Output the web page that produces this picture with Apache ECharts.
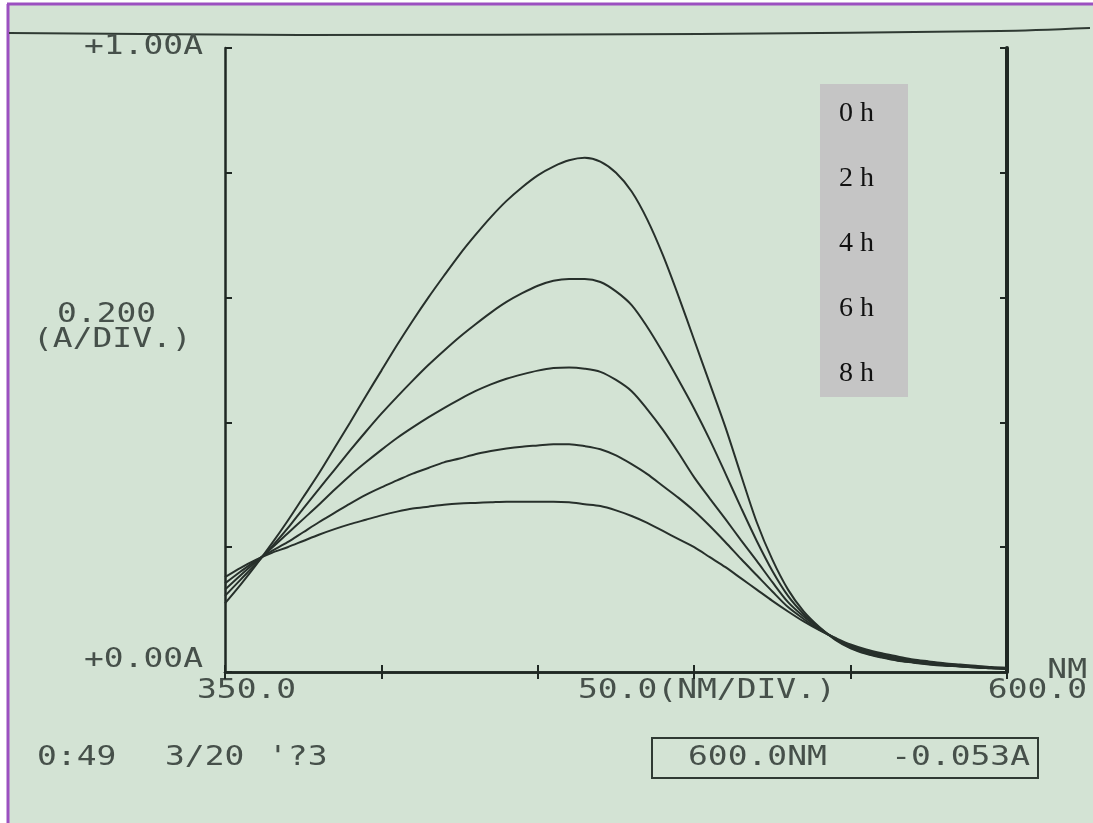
<!DOCTYPE html>
<html>
<head>
<meta charset="utf-8">
<script src="https://cdn.jsdelivr.net/npm/echarts@6/dist/echarts.min.js"></script>
<style>
  html, body { margin: 0; padding: 0; background: #fff; }
  #chart { width: 1093px; height: 823px; }
</style>
</head>
<body>
<div id="chart"></div>
<script>
    // 波长 (nm)
    var wavelengths = [350, 355, 360, 365, 370, 375, 380, 385, 390, 395, 400, 405, 410, 415, 420, 425, 430,
        435, 440, 445, 450, 455, 460, 465, 470, 475, 480, 485, 490, 495, 500, 505, 510, 515, 520, 525,
        530, 535, 540, 545, 550, 555, 560, 565, 570, 575, 580, 585, 590, 595, 600];
    // 吸光度 (A)
    var abs0h = [0.110, 0.140, 0.172, 0.206, 0.242, 0.280, 0.318, 0.359, 0.400, 0.442, 0.483, 0.524, 0.563,
        0.600, 0.635, 0.669, 0.700, 0.729, 0.755, 0.777, 0.796, 0.810, 0.820, 0.824, 0.818, 0.800, 0.770,
        0.725, 0.668, 0.602, 0.532, 0.462, 0.392, 0.315, 0.240, 0.180, 0.132, 0.097, 0.072, 0.052, 0.038,
        0.029, 0.023, 0.018, 0.015, 0.012, 0.010, 0.009, 0.007, 0.006, 0.005];
    var abs2h = [0.122, 0.148, 0.174, 0.201, 0.230, 0.262, 0.293, 0.324, 0.355, 0.385, 0.414, 0.441, 0.467,
        0.492, 0.515, 0.537, 0.557, 0.576, 0.593, 0.607, 0.619, 0.627, 0.630, 0.630, 0.625, 0.610, 0.588,
        0.553, 0.512, 0.468, 0.422, 0.372, 0.318, 0.263, 0.210, 0.162, 0.122, 0.093, 0.071, 0.053, 0.039,
        0.030, 0.024, 0.019, 0.016, 0.013, 0.011, 0.009, 0.008, 0.006, 0.005];
    var abs4h = [0.132, 0.155, 0.177, 0.199, 0.222, 0.245, 0.268, 0.292, 0.315, 0.336, 0.356, 0.375, 0.392,
        0.408, 0.423, 0.437, 0.450, 0.461, 0.470, 0.477, 0.483, 0.487, 0.488, 0.486, 0.481, 0.468, 0.450,
        0.421, 0.388, 0.351, 0.312, 0.278, 0.245, 0.211, 0.178, 0.144, 0.112, 0.089, 0.070, 0.054, 0.041,
        0.032, 0.026, 0.021, 0.018, 0.014, 0.012, 0.010, 0.008, 0.007, 0.006];
    var abs6h = [0.142, 0.161, 0.179, 0.194, 0.208, 0.224, 0.240, 0.255, 0.270, 0.284, 0.296, 0.307, 0.318,
        0.327, 0.336, 0.342, 0.349, 0.354, 0.358, 0.361, 0.363, 0.365, 0.365, 0.362, 0.357, 0.347, 0.333,
        0.317, 0.298, 0.279, 0.258, 0.234, 0.208, 0.181, 0.155, 0.129, 0.104, 0.085, 0.068, 0.054, 0.042,
        0.034, 0.028, 0.023, 0.019, 0.016, 0.013, 0.011, 0.009, 0.007, 0.006];
    var abs8h = [0.152, 0.167, 0.180, 0.191, 0.200, 0.210, 0.220, 0.229, 0.237, 0.244, 0.251, 0.257, 0.262,
        0.265, 0.268, 0.270, 0.271, 0.272, 0.273, 0.273, 0.273, 0.273, 0.272, 0.269, 0.266, 0.259, 0.250,
        0.239, 0.226, 0.213, 0.200, 0.184, 0.168, 0.150, 0.132, 0.114, 0.097, 0.081, 0.067, 0.055, 0.044,
        0.036, 0.030, 0.025, 0.020, 0.017, 0.014, 0.012, 0.010, 0.008, 0.007];
    var seriesNames = ['0 h', '2 h', '4 h', '6 h', '8 h'];
    var seriesValues = [abs0h, abs2h, abs4h, abs6h, abs8h];

    // 打印机上的刻度文字
    var yTickLabels = ['+0.00A', '+1.00A'];
    var yDivLabel = ['0.200', '(A/DIV.)'];
    var xTickLabels = ['350.0', '600.0'];
    var xDivLabel = '50.0(NM/DIV.)';
    var xUnitLabel = 'NM';
    var footTime = ['0:49', '3/20', "'?3"];
    var footReading = ['600.0NM', '-0.053A'];

    var ink = '#27302b';
    var printInk = '#46504a';

    function printText(str, x, y, align) {
        return {
            type: 'text',
            x: x, y: y,
            scaleX: 1.22,
            style: {
                text: str,
                x: 0, y: 0,
                align: align || 'left',
                verticalAlign: 'middle',
                fontFamily: 'DejaVu Sans Mono',
                fontSize: 27,
                fill: printInk
            }
        };
    }

    var series = [];
    for (var i = 0; i < seriesNames.length; i++) {
        var vals = seriesValues[i];
        series.push({
            name: seriesNames[i],
            type: 'line',
            smooth: 0.3,
            showSymbol: false,
            xAxisIndex: 0,
            yAxisIndex: 0,
            lineStyle: { color: ink, width: 2 },
            itemStyle: { color: ink },
            data: wavelengths.map(function (w, k) { return [w, vals[k]]; })
        });
    }

    var axisLine = { lineStyle: { color: '#1f2823', width: 2.5 } };
    var axisTick = { inside: true, length: 7, lineStyle: { color: '#1f2823', width: 2 } };

    var myChart = echarts.init(document.getElementById('chart'));
    var option = {
        backgroundColor: '#d3e3d4',
        animation: false,
        grid: { left: 225, top: 48, width: 782, height: 624 },
        legend: {
            orient: 'vertical',
            left: 820, top: 84,
            icon: 'rect',
            itemWidth: 0, itemHeight: 28, itemGap: 37,
            itemStyle: { opacity: 0 },
            padding: [16, 34, 9, 14],
            backgroundColor: '#c5c5c5',
            selectedMode: false,
            textStyle: { fontFamily: 'Liberation Serif', fontSize: 28, color: '#111' },
            data: seriesNames
        },
        xAxis: [
            { type: 'value', min: 350, max: 600, interval: 50, position: 'bottom',
              axisLine: axisLine, axisTick: axisTick, axisLabel: { show: false }, splitLine: { show: false } },
            { type: 'value', min: 350, max: 600, interval: 50, position: 'top',
              axisLine: axisLine, axisTick: axisTick, axisLabel: { show: false }, splitLine: { show: false } }
        ],
        yAxis: [
            { type: 'value', min: 0, max: 1, interval: 0.2, position: 'left',
              axisLine: axisLine, axisTick: axisTick, axisLabel: { show: false }, splitLine: { show: false } },
            { type: 'value', min: 0, max: 1, interval: 0.2, position: 'right',
              axisLine: { lineStyle: { color: '#1f2823', width: 4 } }, axisTick: axisTick,
              axisLabel: { show: false }, splitLine: { show: false } }
        ],
        series: series,
        graphic: [
            // 照片边缘
            { type: 'rect', shape: { x: 0, y: 0, width: 1093, height: 3 }, style: { fill: '#fff' } },
            { type: 'rect', shape: { x: 0, y: 0, width: 7, height: 823 }, style: { fill: '#fff' } },
            { type: 'line', shape: { x1: 7, y1: 4, x2: 1093, y2: 4 }, style: { stroke: '#9b50c0', lineWidth: 3 } },
            { type: 'line', shape: { x1: 8, y1: 4, x2: 8, y2: 823 }, style: { stroke: '#9b50c0', lineWidth: 3 } },
            // 顶部横线
            { type: 'polyline', shape: { points: [[9, 33], [300, 35], [700, 34], [1000, 31], [1090, 28]], smooth: 0.3 },
              style: { stroke: '#2f3a33', lineWidth: 2, fill: null } },
            printText(yTickLabels[1], 203, 47, 'right'),
            printText(yDivLabel[0], 57, 315),
            printText(yDivLabel[1], 33, 340),
            printText(yTickLabels[0], 203, 660, 'right'),
            printText(xTickLabels[0], 197, 691),
            printText(xDivLabel, 578, 691),
            printText(xUnitLabel, 1087, 671, 'right'),
            printText(xTickLabels[1], 1087, 691, 'right'),
            printText(footTime[0], 37, 758),
            printText(footTime[1], 165, 758),
            printText(footTime[2], 268, 758),
            { type: 'rect', shape: { x: 652, y: 738, width: 386, height: 40 },
              style: { stroke: '#2f3a33', lineWidth: 2, fill: null } },
            printText(footReading[0], 688, 758),
            printText(footReading[1], 1030, 758, 'right')
        ]
    };
    myChart.setOption(option);
</script>
</body>
</html>
